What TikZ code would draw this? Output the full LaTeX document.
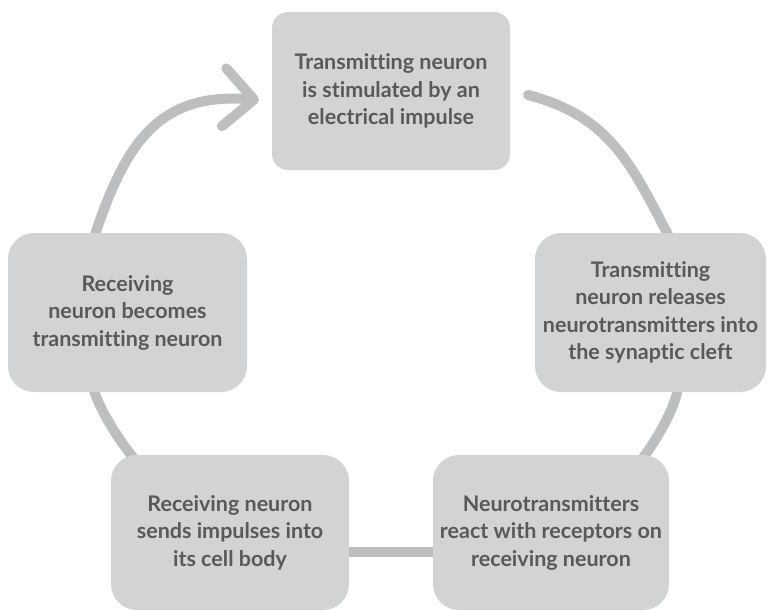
\documentclass[tikz,border=0pt]{standalone}
\usepackage{fontspec}
\setmainfont{Lato}[Ligatures={NoCommon}]
\usetikzlibrary{arrows.meta}
\definecolor{boxfill}{HTML}{D1D3D4}
\definecolor{ringline}{HTML}{BCBEC0}
\definecolor{labeltext}{HTML}{58595B}
\pgfdeclarelayer{ring}
\pgfsetlayers{ring,main}
\begin{document}
\begin{tikzpicture}[x=1pt, y=-1pt,
  stage/.style={draw=none, fill=boxfill, rounded corners=26pt, align=center,
    text=labeltext, font=\fontsize{21.5}{27.5}\selectfont\bfseries, inner sep=0pt},
  link/.style={draw=ringline, line width=10pt, line cap=round}]
\useasboundingbox (0,0) rectangle (767,610);

% the five stages of the cycle
\node[stage, minimum width=238pt, minimum height=158pt, rounded corners=16pt] (T) at (391,91)
  {Transmitting neuron\\is stimulated by an\\electrical impulse};
\node[stage, minimum width=231pt, minimum height=159pt] (R) at (650.5,312.5)
  {Transmitting\\neuron releases\\neurotransmitters into\\the synaptic cleft};
\node[stage, minimum width=236pt, minimum height=155pt] (BR) at (551,532.5)
  {Neurotransmitters\\react with receptors on\\receiving neuron};
\node[stage, minimum width=238pt, minimum height=155pt] (BL) at (230,532.5)
  {Receiving neuron\\sends impulses into\\its cell body};
\node[stage, minimum width=239pt, minimum height=159pt] (L) at (127.5,312.5)
  {Receiving\\neuron becomes\\transmitting neuron};

% connector ends (hidden under the boxes, except the two near T)
\coordinate (T-out)  at (528,95);
\coordinate (R-in)   at (676,250);
\coordinate (R-out)  at (679,380);
\coordinate (BR-in)  at (637,466);
\coordinate (BR-out) at (445,552);
\coordinate (BL-in)  at (340,552);
\coordinate (BL-out) at (140,466);
\coordinate (L-in)   at (91,380);
\coordinate (L-out)  at (90,250);
\coordinate (T-in)   at (259,100);

\begin{pgfonlayer}{ring}
  \draw[link] (T-out) .. controls (615,117.5) and (634,171) .. (R-in);
  \draw[link] (R-out) .. controls (678,405) and (657,440) .. (BR-in);
  \draw[link] (BR-out) -- (BL-in);
  \draw[link] (BL-out) .. controls (118,440) and (96,405) .. (L-in);
  \draw[link, -{Straight Barb[length=30pt, width=58pt, round]}]
    (L-out) .. controls (123,145.5) and (156,92) .. (T-in);
\end{pgfonlayer}
\end{tikzpicture}
\end{document}
